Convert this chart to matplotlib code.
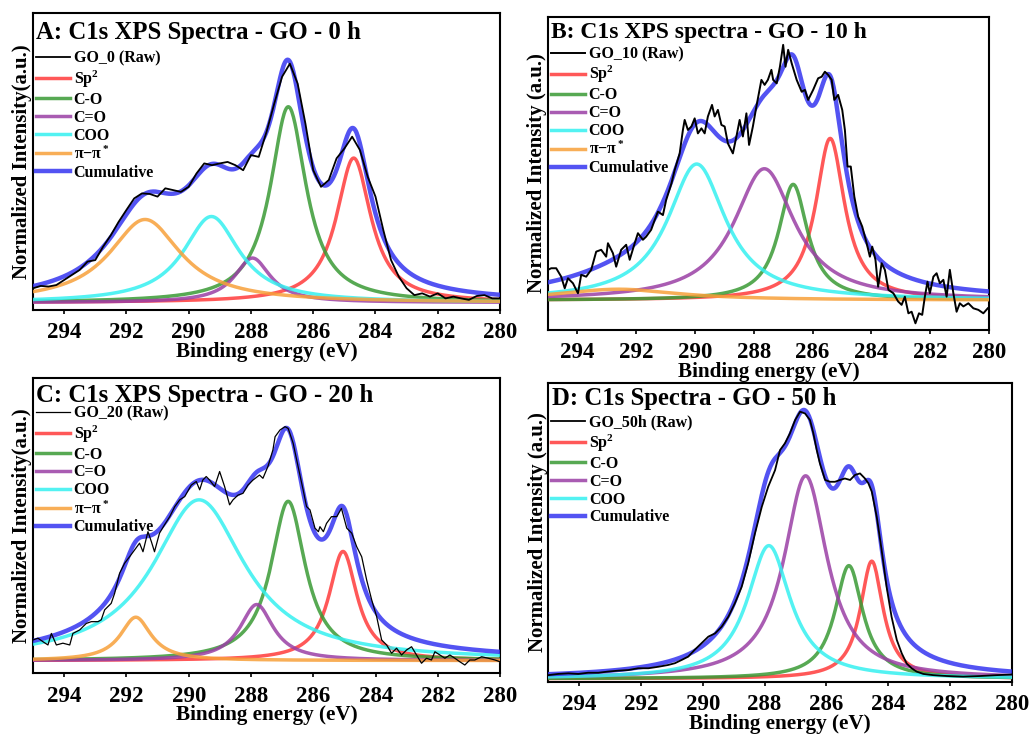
import numpy as np
import matplotlib
matplotlib.use("Agg")
import matplotlib.pyplot as plt

plt.rcParams['font.family'] = ['Liberation Serif', 'DejaVu Serif']
plt.rcParams['font.weight'] = 'bold'
plt.rcParams['mathtext.fontset'] = 'custom'
plt.rcParams['mathtext.rm'] = 'Liberation Serif:bold'
plt.rcParams['mathtext.it'] = 'Liberation Serif:bold'
plt.rcParams['mathtext.bf'] = 'Liberation Serif:bold'

# intensities are read as % of each panel's height
# fitted components: (centre eV, height above baseline, FWHM eV)
names = ["Sp$^2$", "C-O", "C=O", "COO", "π−π$^*$"]
colors = ["#ff3b3b", "#3a9a35", "#9a3fa5", "#35f0f0", "#f7a03a"]

# A: GO 0 h
a_base = 2.5
a_peaks = [(284.70, 48.7, 1.35), (286.80, 66.0, 1.4), (287.95, 15.0, 1.4),
           (289.27, 29.0, 2.2), (291.40, 28.0, 2.8)]
a_e = [295.0, 294.75, 294.5, 294.25, 294.0, 293.75, 293.5, 293.25, 293.0, 292.75,
       292.5, 292.25, 292.0, 291.75, 291.5, 291.25, 291.0, 290.75, 290.5, 290.25,
       290.0, 289.75, 289.5, 289.25, 289.0, 288.75, 288.5, 288.25, 288.0, 287.75,
       287.5, 287.25, 287.0, 286.75, 286.5, 286.25, 286.0, 285.75, 285.5, 285.25,
       285.0, 284.75, 284.5, 284.25, 284.0, 283.75, 283.5, 283.25, 283.0, 282.75,
       282.5, 282.25, 282.0, 281.75, 281.5, 281.25, 281.0, 280.75, 280.5, 280.25, 280.0]
a_raw = [7.3, 8.1, 7.9, 8.4, 10.1, 11.8, 13.5, 16.3, 16.8, 21.3,
         25.2, 29.7, 33.7, 37.6, 39.3, 39.1, 38.2, 41.0, 40.4, 39.8,
         41.5, 46.0, 49.4, 48.8, 49.4, 49.9, 48.8, 47.1, 52.2, 51.6,
         60.0, 69.6, 78.6, 83.0, 76.3, 62.8, 47.1, 41.5, 43.8, 51.1,
         54.4, 58.4, 53.9, 44.9, 38.2, 27.0, 16.8, 11.2, 7.3, 5.0,
         5.6, 4.5, 5.6, 3.9, 4.5, 3.9, 3.4, 4.7, 5.0, 3.9, 3.9]

# B: GO 10 h
b_base = 9.5
b_peaks = [(285.40, 51.7, 1.2), (286.66, 37.0, 1.2), (287.64, 42.0, 2.5),
           (289.94, 43.5, 2.4), (292.60, 3.5, 5.0)]
b_e = [295.00, 294.89, 294.72, 294.55, 294.43, 294.32, 294.15, 293.98, 293.87, 293.70,
       293.53, 293.36, 293.19, 293.02, 292.96, 292.79, 292.68, 292.51, 292.34, 292.22,
       292.05, 291.94, 291.77, 291.66, 291.49, 291.37, 291.26, 291.09, 290.98, 290.80,
       290.69, 290.52, 290.41, 290.35, 290.24, 290.12, 290.01, 289.90, 289.78, 289.67,
       289.56, 289.42, 289.33, 289.22, 289.10, 288.99, 288.88, 288.71, 288.59, 288.48,
       288.37, 288.25, 288.16, 288.03, 287.91, 287.74, 287.63, 287.52, 287.40, 287.34,
       287.22, 287.11, 287.00, 286.92, 286.83, 286.71, 286.54, 286.37, 286.26, 286.15,
       285.98, 285.81, 285.69, 285.58, 285.47, 285.35, 285.26, 285.13, 284.99, 284.90,
       284.81, 284.70, 284.58, 284.45, 284.31, 284.16, 284.05, 283.97, 283.86, 283.77,
       283.65, 283.54, 283.42, 283.25, 283.09, 282.97, 282.86, 282.74, 282.63, 282.50,
       282.38, 282.27, 282.18, 282.09, 282.01, 281.89, 281.78, 281.67, 281.55, 281.44,
       281.33, 281.21, 281.10, 280.99, 280.87, 280.70, 280.53, 280.36, 280.19, 280.04]
b_raw = [19.2, 19.7, 19.7, 17.0, 13.3, 16.5, 14.9, 11.7, 17.6, 17.0,
         19.2, 25.0, 25.6, 23.4, 27.7, 24.5, 20.2, 25.6, 27.2, 22.4,
         27.7, 30.9, 28.8, 29.8, 32.0, 35.1, 37.8, 36.7, 41.5, 46.8,
         51.1, 56.4, 63.9, 67.1, 63.9, 65.0, 67.6, 62.8, 64.4, 62.8,
         68.2, 71.9, 68.2, 70.3, 65.5, 65.0, 59.6, 56.4, 61.8, 67.1,
         61.8, 69.2, 59.1, 65.0, 71.4, 79.9, 78.3, 79.9, 83.1, 79.9,
         78.8, 84.1, 91.1, 84.1, 89.5, 85.2, 79.9, 76.1, 76.7, 73.5,
         76.7, 80.4, 80.9, 82.5, 81.5, 79.9, 73.5, 75.1, 70.3, 63.9,
         52.2, 52.2, 42.6, 36.2, 33.0, 27.7, 23.4, 26.6, 22.4, 13.8,
         21.3, 19.2, 12.8, 11.7, 9.1, 8.0, 10.6, 5.3, 5.8, 2.1,
         5.3, 4.8, 10.6, 15.4, 11.7, 17.0, 18.1, 14.9, 16.0, 10.6,
         19.2, 11.7, 5.8, 8.5, 7.5, 8.5, 6.9, 6.4, 5.3, 6.9]

# C: GO 20 h
c_base = 4.3
c_peaks = [(285.05, 37.0, 1.1), (286.81, 54.0, 1.35), (287.82, 19.0, 1.3),
           (289.67, 54.5, 3.6), (291.70, 14.7, 1.2)]
c_e = [295.0, 294.84, 294.68, 294.52, 294.41, 294.25, 294.04, 293.82, 293.72, 293.50,
       293.29, 293.13, 292.91, 292.81, 292.70, 292.49, 292.38, 292.22, 292.06, 291.90,
       291.74, 291.58, 291.47, 291.31, 291.20, 291.10, 290.94, 290.78, 290.61, 290.45,
       290.29, 290.13, 289.92, 289.76, 289.65, 289.55, 289.44, 289.33, 289.17, 289.01,
       288.85, 288.69, 288.58, 288.42, 288.26, 288.10, 287.94, 287.73, 287.62, 287.46,
       287.30, 287.23, 287.07, 286.91, 286.81, 286.65, 286.49, 286.33, 286.22, 286.11,
       285.95, 285.84, 285.79, 285.68, 285.58, 285.42, 285.25, 285.10, 284.93, 284.77,
       284.61, 284.45, 284.29, 284.13, 283.97, 283.81, 283.65, 283.49, 283.33, 283.17,
       283.01, 282.85, 282.69, 282.53, 282.37, 282.21, 282.10, 281.94, 281.78, 281.62,
       281.46, 281.30, 281.14, 280.98, 280.82, 280.60, 280.39, 280.17, 280.01]
c_raw = [11.3, 11.9, 10.7, 9.6, 13.5, 9.6, 10.2, 9.6, 13.5, 14.7,
         16.9, 17.5, 17.5, 18.1, 21.5, 23.7, 27.1, 33.9, 37.3, 39.5,
         41.8, 44.1, 41.2, 48.0, 44.6, 41.2, 47.5, 50.3, 53.1, 56.5,
         58.8, 59.9, 63.8, 65.0, 62.2, 65.5, 66.7, 65.5, 63.3, 68.4,
         63.3, 57.1, 58.8, 60.4, 61.0, 63.8, 65.5, 67.2, 66.1, 70.1,
         75.7, 80.2, 82.5, 83.6, 83.0, 78.0, 70.0, 62.2, 56.5, 55.4,
         49.2, 48.0, 49.7, 48.0, 50.8, 53.1, 53.1, 55.9, 49.2, 47.5,
         42.9, 39.5, 31.6, 24.9, 19.2, 11.3, 9.6, 6.8, 8.5, 6.2,
         7.9, 9.0, 6.2, 3.4, 5.1, 4.5, 7.3, 6.2, 5.1, 6.2,
         5.1, 3.9, 2.8, 4.5, 4.5, 5.6, 5.1, 4.5, 3.9]

# D: GO 50 h (no pi-pi* component)
d_base = 1.0
d_peaks = [(284.53, 39.4, 0.9), (285.27, 37.9, 1.1), (286.67, 68.0, 1.7),
           (287.86, 44.6, 1.7)]
d_e = [295.0, 294.68, 294.35, 294.03, 293.71, 293.38, 293.06, 292.73, 292.41, 292.09,
       291.76, 291.44, 291.12, 290.90, 290.68, 290.47, 290.25, 290.04, 289.82, 289.60,
       289.39, 289.17, 288.96, 288.74, 288.53, 288.31, 288.09, 287.88, 287.66, 287.50,
       287.34, 287.18, 287.01, 286.85, 286.69, 286.53, 286.42, 286.31, 286.21, 286.04,
       285.88, 285.72, 285.56, 285.40, 285.23, 285.07, 284.91, 284.75, 284.64, 284.53,
       284.37, 284.21, 284.05, 283.89, 283.72, 283.56, 283.40, 283.24, 283.08, 282.86,
       282.54, 282.10, 281.57, 281.03, 280.49, 280.0]
d_raw = [2.2, 2.6, 2.8, 2.6, 3.0, 3.0, 3.4, 3.7, 3.9, 4.5,
         4.5, 5.0, 5.6, 6.2, 7.3, 8.4, 10.8, 12.9, 15.1, 16.2,
         18.4, 21.8, 26.3, 31.8, 39.7, 49.7, 58.6, 65.4, 70.9, 77.6,
         79.9, 83.2, 87.7, 90.5, 89.9, 87.7, 83.2, 77.6, 73.2, 67.6,
         67.0, 67.0, 67.6, 68.1, 67.6, 69.3, 69.8, 68.1, 66.5, 63.7,
         55.3, 44.1, 31.8, 21.8, 14.0, 9.5, 6.1, 4.5, 3.4, 2.6,
         2.2, 1.9, 1.7, 1.9, 2.2, 2.4]

panels = [
    dict(pos=[0.032, 0.580, 0.453, 0.402], title="A: C1s XPS Spectra - GO - 0 h",
         raw_label="GO_0 (Raw)", ylabel="Normalized Intensity(a.u.)",
         base=a_base, peaks=a_peaks, e=a_e, raw=a_raw, raw_lw=1.3,
         title_y=0.936, title_fs=17.8, leg_y=0.885),
    dict(pos=[0.5315, 0.553, 0.4277, 0.424], title="B: C1s XPS spectra - GO - 10 h",
         raw_label="GO_10 (Raw)", ylabel="Normalized Intensity (a.u.)",
         base=b_base, peaks=b_peaks, e=b_e, raw=b_raw, raw_lw=1.4,
         title_y=0.949, title_fs=17.0, leg_y=0.917),
    dict(pos=[0.032, 0.0877, 0.4533, 0.3997], title="C: C1s XPS Spectra - GO - 20 h",
         raw_label="GO_20 (Raw)", ylabel="Normalized Intensity(a.u.)",
         base=c_base, peaks=c_peaks, e=c_e, raw=c_raw, raw_lw=0.9,
         title_y=0.942, title_fs=17.8, leg_y=0.919),
    dict(pos=[0.5318, 0.0763, 0.4495, 0.4043], title="D: C1s Spectra - GO - 50 h",
         raw_label="GO_50h (Raw)", ylabel="Normalized Intensity (a.u.)",
         base=d_base, peaks=d_peaks, e=d_e, raw=d_raw, raw_lw=1.3,
         title_y=0.950, title_fs=17.8, leg_y=0.906),
]


def lorentz(x, c, h, w):
    return h / (1.0 + ((x - c) / (w / 2.0)) ** 2)


fig = plt.figure(figsize=(10.31, 7.38), dpi=100)
x = np.linspace(280, 295, 600)

for p in panels:
    ax = fig.add_axes(p["pos"])
    total = np.full_like(x, p["base"])
    handles = []
    raw_line, = ax.plot(p["e"], p["raw"], color="black", lw=p["raw_lw"], zorder=5,
                        label=p["raw_label"])
    handles.append(raw_line)
    for (c, h, w), nm, col in zip(p["peaks"], names, colors):
        y = lorentz(x, c, h, w)
        total += y
        ln, = ax.plot(x, p["base"] + y, color=col, lw=2.5, alpha=0.85, zorder=3, label=nm)
        handles.append(ln)
    cum, = ax.plot(x, total, color="#3535f0", lw=3.2, alpha=0.85, zorder=4, label="Cumulative")
    handles.append(cum)

    ax.set_xlim(295, 280)
    ax.set_ylim(0, 100)
    ax.set_xticks([294, 292, 290, 288, 286, 284, 282, 280])
    ax.set_yticks([])
    ax.tick_params(axis="x", direction="out", length=3, width=1.2, labelsize=16.5, pad=6)
    for lab in ax.get_xticklabels():
        lab.set_fontweight("bold")
    for s in ax.spines.values():
        s.set_linewidth(1.5)
    ax.set_xlabel("Binding energy (eV)", fontsize=15.2, fontweight="bold", labelpad=-1)
    ax.set_ylabel(p["ylabel"], fontsize=15, fontweight="bold", labelpad=0.5)
    ax.text(0.007, p["title_y"], p["title"], transform=ax.transAxes, fontsize=p["title_fs"],
            fontweight="bold", va="center", ha="left")
    ax.legend(handles=handles, loc="upper left", bbox_to_anchor=(0.0, p["leg_y"]),
              frameon=False, fontsize=11.5, handlelength=2.1, handletextpad=0.25,
              labelspacing=0.12, borderaxespad=0, borderpad=0.2)

fig.savefig("out.png", dpi=100)
